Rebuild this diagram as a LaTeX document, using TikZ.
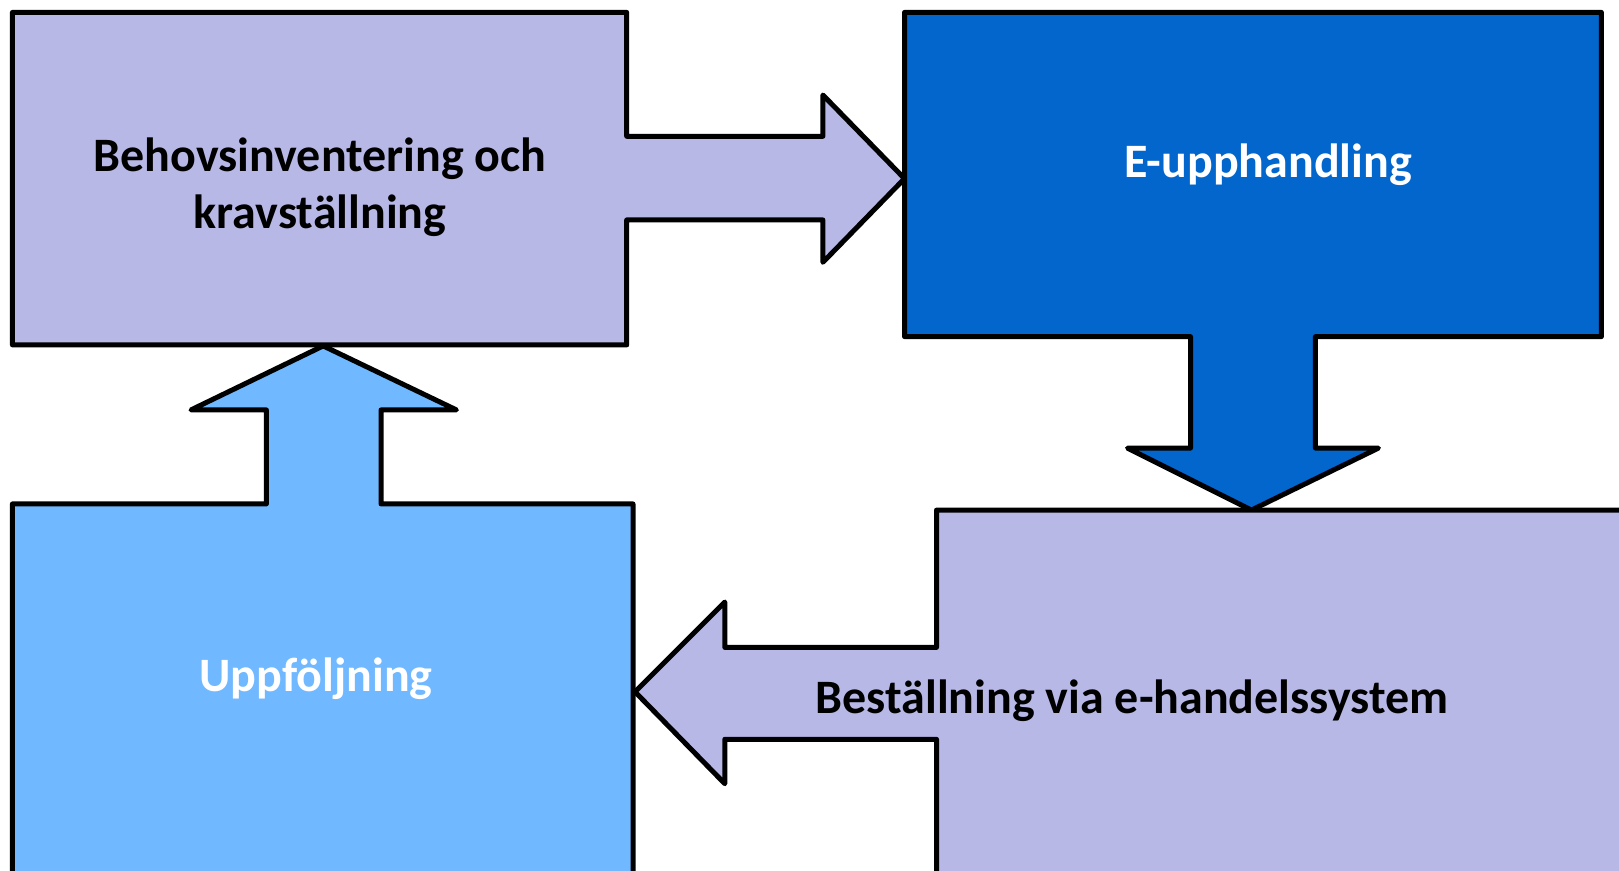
\documentclass[tikz,border=0pt]{standalone}
\usepackage{fontspec}
\setmainfont{Carlito}
\definecolor{lav}{HTML}{B7B8E6}
\definecolor{dblue}{HTML}{0366CC}
\definecolor{lblue}{HTML}{70B8FF}
\tikzset{
  shp/.style={draw=black, line width=5pt, line join=round},
  lbl/.style={font=\fontsize{48}{57}\selectfont\bfseries, align=center, inner sep=0pt}
}
\begin{document}
\begin{tikzpicture}[x=1pt,y=-1pt]
\useasboundingbox (0,0) rectangle (1619,870);
\clip (0,0) rectangle (1619,870);
% Box 1 with right arrow
\draw[shp, fill=lav] (12.4,12.4) -- (626.7,12.4) -- (626.7,136.3) -- (822.9,136.3) -- (822.9,95) -- (904.5,178.6) -- (822.9,262.3) -- (822.9,219.9) -- (626.7,219.9) -- (626.7,344.9) -- (12.4,344.9) -- cycle;
% Box 2 with down arrow
\draw[shp, fill=dblue] (904.5,12.4) -- (1601.4,12.4) -- (1601.4,336.6) -- (1315.4,336.6) -- (1315.4,448.1) -- (1378.4,448.1) -- (1251.4,510.1) -- (1127.5,448.1) -- (1190.5,448.1) -- (1190.5,336.6) -- (904.5,336.6) -- cycle;
% Box 3 with left arrow
\draw[shp, fill=lav] (936.5,510.1) -- (1640,510.1) -- (1640,890) -- (936.5,890) -- (936.5,739.3) -- (724.8,739.3) -- (724.8,783.7) -- (635,691.8) -- (724.8,602) -- (724.8,647.4) -- (936.5,647.4) -- cycle;
% Box 4 with up arrow
\draw[shp, fill=lblue] (12.4,503.9) -- (266.4,503.9) -- (266.4,409.9) -- (191,409.9) -- (323.2,345.9) -- (456.4,409.9) -- (381,409.9) -- (381,503.9) -- (633,503.9) -- (633,890) -- (12.4,890) -- cycle;
% Labels
\node[lbl, text=black] (t1) at (320,187) {Behovsinventering och\\kravställning};
\node[lbl, text=white] (t2) at (1268,165) {E-upphandling};
\node[lbl, text=black] (t3) at (1132,701) {Beställning via e-handelssystem};
\node[lbl, text=white] (t4) at (316,679) {Uppföljning};
\end{tikzpicture}
\end{document}
